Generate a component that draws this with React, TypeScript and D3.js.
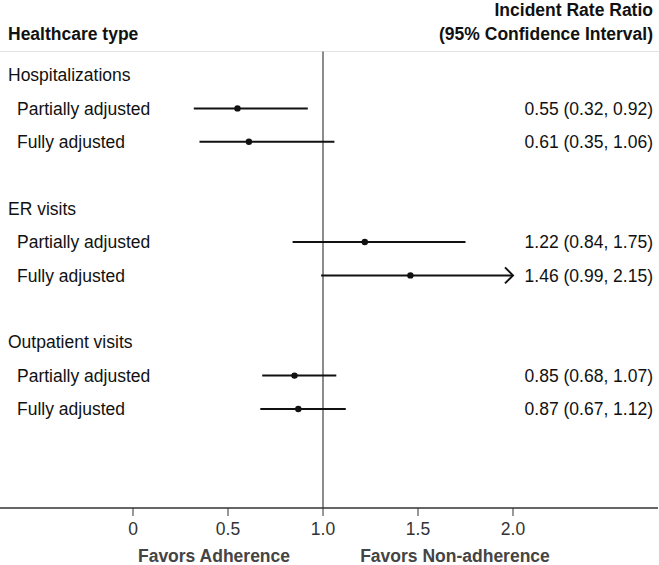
import React from "react";
import * as d3 from "d3";

const groups = ["Hospitalizations", "ER visits", "Outpatient visits"];
const subLabels = ["Partially adjusted", "Fully adjusted"];
const estimates = [0.55, 0.61, 1.22, 1.46, 0.85, 0.87];
const lowers = [0.32, 0.35, 0.84, 0.99, 0.68, 0.67];
const uppers = [0.92, 1.06, 1.75, 2.15, 1.07, 1.12];
const ciLabels = [
  "0.55 (0.32, 0.92)",
  "0.61 (0.35, 1.06)",
  "1.22 (0.84, 1.75)",
  "1.46 (0.99, 2.15)",
  "0.85 (0.68, 1.07)",
  "0.87 (0.67, 1.12)",
];
const ticks = [0, 0.5, 1.0, 1.5, 2.0];
const tickLabels = ["0", "0.5", "1.0", "1.5", "2.0"];

const W = 659;
const H = 565;
const FONT = "'Liberation Sans', Arial, sans-serif";
const FS = 17.5;

export default function App() {
  const x = d3.scaleLinear().domain([0, 2]).range([133, 513]);
  const y = d3.scaleLinear().domain([0, 10]).range([75, 409]);
  const axisY = 508;
  const xMax = 2.0;

  const rows: { label: string; idx: number; kind: "group" | "sub"; d?: number }[] = [];
  groups.forEach((g, gi) => {
    rows.push({ label: g, idx: gi * 4, kind: "group" });
    subLabels.forEach((s, si) => {
      rows.push({ label: s, idx: gi * 4 + 1 + si, kind: "sub", d: gi * 2 + si });
    });
  });

  return (
    <svg width={W} height={H} style={{ position: "absolute", left: 0, top: 0 }} fontFamily={FONT}>
      <rect width={W} height={H} fill="#fff" />
      {/* header */}
      <text x={8} y={34} dy="0.35em" fontSize={FS} fontWeight="bold" fill="#111">Healthcare type</text>
      <text x={653} y={10} dy="0.35em" fontSize={FS} fontWeight="bold" fill="#111" textAnchor="end">Incident Rate Ratio</text>
      <text x={653} y={34} dy="0.35em" fontSize={FS} fontWeight="bold" fill="#111" textAnchor="end">(95% Confidence Interval)</text>
      <line x1={0} x2={W} y1={51.5} y2={51.5} stroke="#e4e4e4" strokeWidth={1} />

      {/* reference line */}
      <line x1={x(1)} x2={x(1)} y1={51.5} y2={axisY} stroke="#666" strokeWidth={1.5} />

      {rows.map((r, i) => (
        <text key={"l" + i} x={r.kind === "group" ? 8 : 17} y={y(r.idx)} dy="0.35em" fontSize={FS} fill="#111">
          {r.label}
        </text>
      ))}

      {rows.filter((r) => r.kind === "sub").map((r, i) => {
        const d = r.d as number;
        const yy = y(r.idx);
        const hi = Math.min(uppers[d], xMax);
        const clipped = uppers[d] > xMax;
        return (
          <g key={"m" + i}>
            <line x1={x(lowers[d])} x2={x(hi)} y1={yy} y2={yy} stroke="#111" strokeWidth={2} />
            {clipped && (
              <path
                d={`M${x(hi) - 8},${yy - 8} L${x(hi)},${yy} L${x(hi) - 8},${yy + 8}`}
                fill="none"
                stroke="#111"
                strokeWidth={2}
              />
            )}
            <circle cx={x(estimates[d])} cy={yy} r={3.2} fill="#111" />
            <text x={653} y={yy} dy="0.35em" fontSize={FS} fill="#111" textAnchor="end">
              {ciLabels[d]}
            </text>
          </g>
        );
      })}

      {/* axis */}
      <line x1={0} x2={W - 1} y1={axisY} y2={axisY} stroke="#333" strokeWidth={1.5} />
      {ticks.map((t, i) => (
        <g key={"t" + i}>
          <line x1={x(t)} x2={x(t)} y1={axisY} y2={axisY + 8} stroke="#333" strokeWidth={1} />
          <text x={x(t)} y={529} dy="0.35em" fontSize={FS} fill="#333" textAnchor="middle">
            {tickLabels[i]}
          </text>
        </g>
      ))}
      <text x={214} y={556} dy="0.35em" fontSize={FS} fontWeight="bold" fill="#444" textAnchor="middle">Favors Adherence</text>
      <text x={455} y={556} dy="0.35em" fontSize={FS} fontWeight="bold" fill="#444" textAnchor="middle">Favors Non-adherence</text>
    </svg>
  );
}
